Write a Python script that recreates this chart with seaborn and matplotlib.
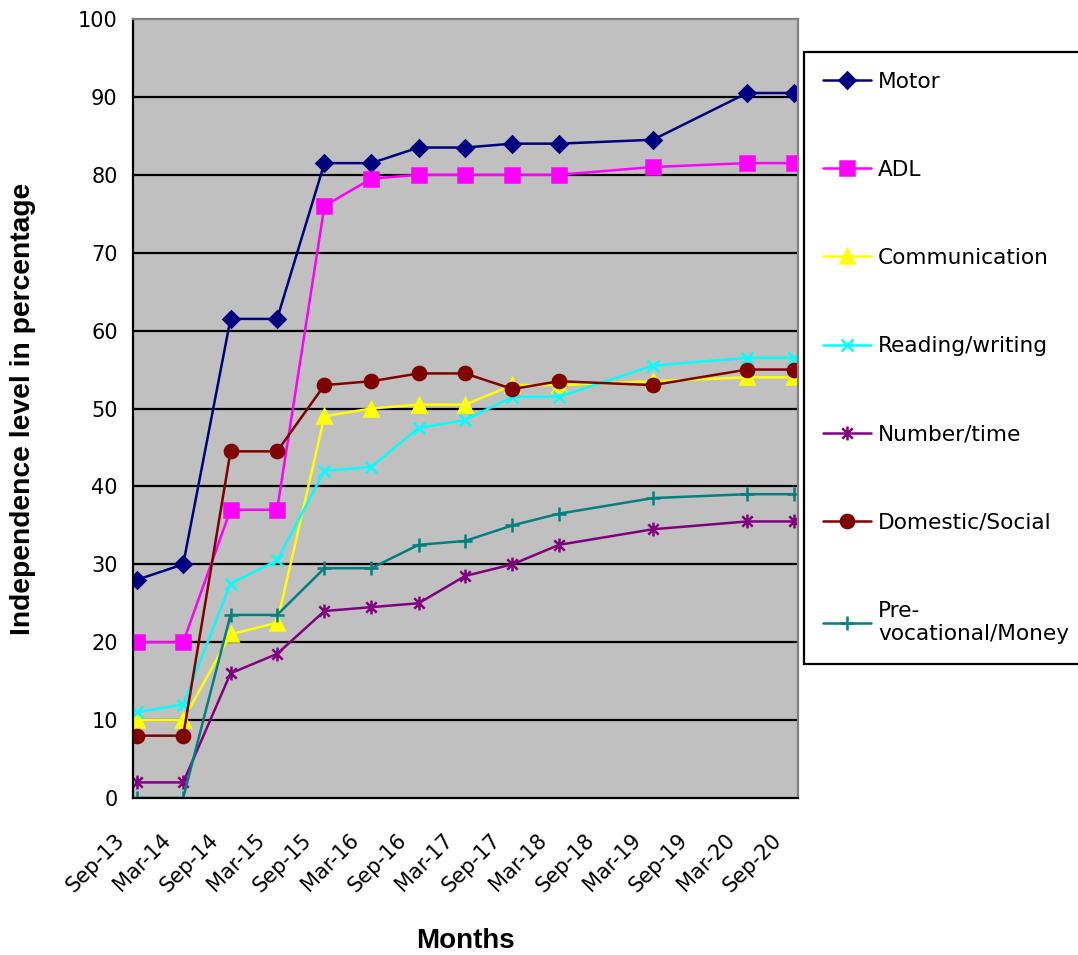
import pandas as pd
import matplotlib.pyplot as plt
import matplotlib.transforms as mtransforms
from matplotlib.path import Path
import seaborn as sns

# Fechas de medición (los meses Sep-18 y Sep-19 no tienen dato)
fechas = ['2013-09-15', '2014-03-15', '2014-09-15', '2015-03-15', '2015-09-15',
          '2016-03-15', '2016-09-15', '2017-03-15', '2017-09-15', '2018-03-15',
          '2019-03-15', '2020-03-15', '2020-09-15']

motor = [28, 30, 61.5, 61.5, 81.5, 81.5, 83.5, 83.5, 84, 84, 84.5, 90.5, 90.5]
adl = [20, 20, 37, 37, 76, 79.5, 80, 80, 80, 80, 81, 81.5, 81.5]
communication = [10, 10, 21, 22.5, 49, 50, 50.5, 50.5, 53, 53, 53.5, 54, 54]
reading = [11, 12, 27.5, 30.5, 42, 42.5, 47.5, 48.5, 51.5, 51.5, 55.5, 56.5, 56.5]
number = [2, 2, 16, 18.5, 24, 24.5, 25, 28.5, 30, 32.5, 34.5, 35.5, 35.5]
domestic = [8, 8, 44.5, 44.5, 53, 53.5, 54.5, 54.5, 52.5, 53.5, 53, 55, 55]
prevoc = [0, 0, 23.5, 23.5, 29.5, 29.5, 32.5, 33, 35, 36.5, 38.5, 39, 39]

tick_labels = ['Sep-13', 'Mar-14', 'Sep-14', 'Mar-15', 'Sep-15', 'Mar-16', 'Sep-16',
               'Mar-17', 'Sep-17', 'Mar-18', 'Sep-18', 'Mar-19', 'Sep-19', 'Mar-20', 'Sep-20']

# marcador tipo asterisco de Excel (X con línea vertical)
asterisco = Path([(0, -1), (0, 1), (-0.75, -0.75), (0.75, 0.75), (-0.75, 0.75), (0.75, -0.75)],
                 [Path.MOVETO, Path.LINETO, Path.MOVETO, Path.LINETO, Path.MOVETO, Path.LINETO])

series = [
    ('Motor', motor, '#000080', 'D', 8.5),
    ('ADL', adl, '#FF00FF', 's', 9.5),
    ('Communication', communication, '#FFFF00', '^', 10),
    ('Reading/writing', reading, '#00FFFF', 'x', 9),
    ('Number/time', number, '#800080', asterisco, 10),
    ('Domestic/Social', domestic, '#800000', 'o', 9.5),
    ('Pre-\nvocational/Money', prevoc, '#008080', '+', 10.5),
]

sns.set_style('white')
plt.rcParams['font.family'] = ['DejaVu Sans']
plt.rcParams['text.color'] = 'black'
plt.rcParams['axes.labelcolor'] = 'black'
plt.rcParams['xtick.color'] = 'black'
plt.rcParams['ytick.color'] = 'black'

fig = plt.figure(figsize=(10.78, 9.55), dpi=100)
ax = fig.add_axes([0.1234, 0.1644, 0.6169, 0.8157])
ax.set_facecolor('#C0C0C0')

x = pd.to_datetime(fechas)
for nombre, valores, color, marcador, tam in series:
    df = pd.DataFrame({'Mes': x, 'Valor': valores})
    sns.lineplot(data=df, x='Mes', y='Valor', ax=ax, color=color, marker=marcador,
                 markersize=tam, markeredgecolor=color, markeredgewidth=1.8,
                 linewidth=1.8, label=nombre)

ax.set_ylim(0, 100)
ax.set_yticks(range(0, 101, 10))
for yv in range(10, 100, 10):
    ax.axhline(yv, color='black', linewidth=1.6, zorder=0.5)

ax.set_xlim(pd.Timestamp('2013-09-01'), pd.Timestamp('2020-09-29'))
ticks = pd.date_range('2013-09-01', '2020-09-01', freq='6MS')
ax.set_xticks(ticks)
ax.set_xticklabels(tick_labels, rotation=45, ha='right', rotation_mode='anchor')

ax.tick_params(axis='both', direction='out', length=7, width=1.6, color='black',
               labelsize=15, pad=4)
ax.tick_params(axis='x', labelsize=15, pad=16)
desplaza = mtransforms.ScaledTranslation(-19 / 100, 0, fig.dpi_scale_trans)
for etiqueta in ax.get_xticklabels():
    etiqueta.set_transform(etiqueta.get_transform() + desplaza)

for lado in ['left', 'bottom']:
    ax.spines[lado].set_color('black')
    ax.spines[lado].set_linewidth(1.6)
for lado in ['top', 'right']:
    ax.spines[lado].set_color('#808080')
    ax.spines[lado].set_linewidth(1.6)

ax.set_xlabel('Months', fontsize=20, fontweight='bold', family='Liberation Sans', va='center')
ax.xaxis.set_label_coords(0.5, -0.183)
ax.set_ylabel('Independence level in percentage', fontsize=20.3, fontweight='bold',
              family='Liberation Sans')
ax.yaxis.set_label_coords(-0.146, 0.5)

handles, labels = ax.get_legend_handles_labels()
ax.get_legend().remove()
leg = fig.legend(handles, labels, loc='upper left',
                 bbox_to_anchor=(0.7458, 0.9455, 0.26, 0.0), mode='expand',
                 frameon=True, fancybox=False, edgecolor='black', fontsize=15.6,
                 labelspacing=3.15, handlelength=2.2, handletextpad=0.32,
                 borderpad=0.9, borderaxespad=0)
leg.get_frame().set_linewidth(1.6)
leg.get_frame().set_alpha(1)

plt.savefig('out.png', dpi=100)
